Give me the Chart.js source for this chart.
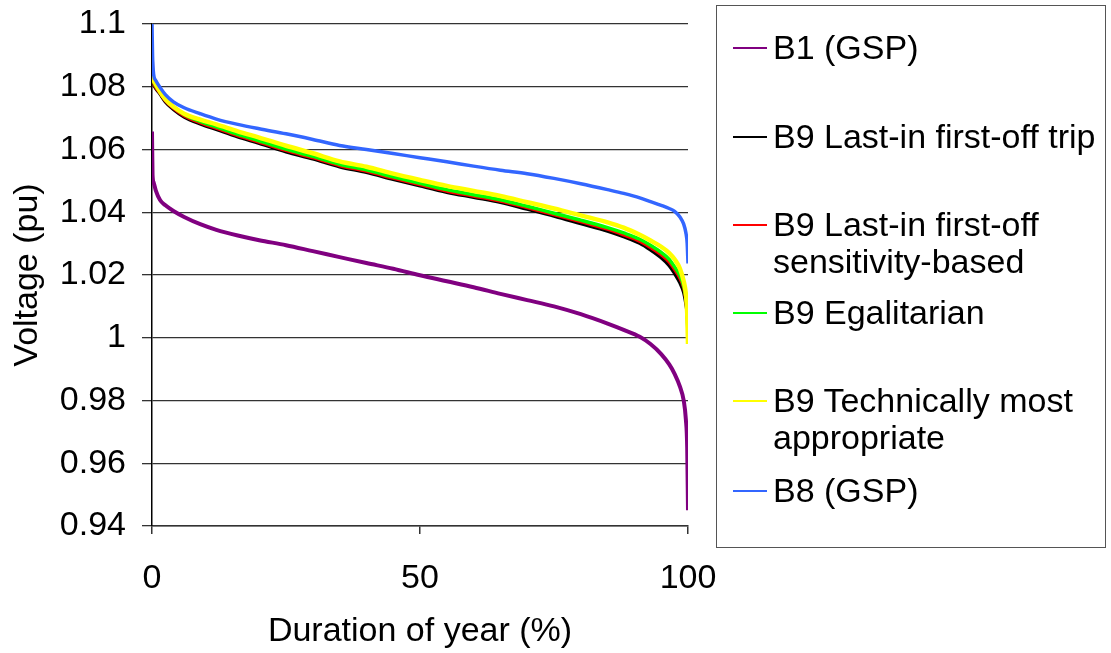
<!DOCTYPE html>
<html>
<head>
<meta charset="utf-8">
<script src="https://cdn.jsdelivr.net/npm/chart.js@4.4.1/dist/chart.umd.min.js"></script>
<style>
    html, body { margin: 0; padding: 0; background: #fff; }
    #wrap { position: relative; width: 1111px; height: 653px; font-family: "Liberation Sans", Arial, sans-serif; }
    #legendBox {
        position: absolute; left: 716px; top: 5px; width: 390px; height: 543px;
        border: 1.5px solid #555; box-sizing: border-box;
    }
    .item { position: absolute; left: 56px; font-size: 34px; line-height: 37px; color: #000; white-space: nowrap; }
    .swatch { position: absolute; left: -40px; top: 17.5px; width: 34px; height: 2px; }
</style>
</head>
<body>
<div id="wrap">
    <canvas id="voltageChart" width="1111" height="653"></canvas>
    <div id="legendBox"></div>
</div>
<script>
// duration of year (%), shared x positions for all curves
const durationPct = [0, 0.1, 0.3, 0.7, 1.5, 2.5, 4, 6, 9, 12, 16, 20, 25, 30, 35, 40, 45, 50,
    55, 60, 65, 70, 75, 80, 85, 88, 91, 93, 95, 96.5, 97.5, 98.5, 99.2, 99.6, 99.85, 100];

const b1Gsp = [1.0657, 1.052, 1.0495, 1.047, 1.0439, 1.0422, 1.0404, 1.0385, 1.0362, 1.0344, 1.0326, 1.0311,
    1.0295, 1.0276, 1.0257, 1.0238, 1.022, 1.0199, 1.018, 1.0161, 1.014, 1.012, 1.01, 1.0075, 1.0045,
    1.0025, 1.0003, 0.998, 0.9948, 0.9915, 0.9885, 0.9844, 0.98, 0.974, 0.965, 0.945];

const b9LifoTrip = [1.085, 1.083, 1.081, 1.0795, 1.0777, 1.0752, 1.0728, 1.0704, 1.0682, 1.0664, 1.064, 1.062,
    1.0593, 1.057, 1.0545, 1.0527, 1.0505, 1.0484, 1.0464, 1.0448, 1.0432, 1.041, 1.0388, 1.0364, 1.034,
    1.0322, 1.0301, 1.028, 1.0255, 1.023, 1.0205, 1.0175, 1.0145, 1.011, 1.008, 1.005];

const b9LifoSens = [1.092, 1.085, 1.0815, 1.0799, 1.0781, 1.0756, 1.0732, 1.0708, 1.0686, 1.0668, 1.0644, 1.0624,
    1.0597, 1.0574, 1.0549, 1.0531, 1.0509, 1.0488, 1.0468, 1.0452, 1.0436, 1.0415, 1.0393, 1.037, 1.0346,
    1.0328, 1.0308, 1.0288, 1.0265, 1.0242, 1.0218, 1.019, 1.016, 1.0125, 1.008, 1.002];

const b9Egalitarian = [1.086, 1.0835, 1.0818, 1.0803, 1.0785, 1.076, 1.0736, 1.0712, 1.069, 1.0672, 1.0648, 1.0628,
    1.0601, 1.0578, 1.0553, 1.0535, 1.0513, 1.0492, 1.0472, 1.0456, 1.044, 1.0419, 1.0397, 1.0375, 1.0351,
    1.0334, 1.0314, 1.0295, 1.0272, 1.025, 1.0226, 1.0198, 1.0165, 1.013, 1.0085, 1.0];

const b9TechMost = [1.0855, 1.0838, 1.0822, 1.0808, 1.0784, 1.076, 1.0736, 1.0714, 1.0695, 1.068, 1.0658, 1.0638,
    1.0612, 1.0588, 1.0562, 1.0545, 1.0523, 1.0503, 1.0484, 1.0468, 1.0452, 1.0432, 1.0412, 1.039, 1.0368,
    1.0351, 1.0328, 1.031, 1.029, 1.027, 1.025, 1.022, 1.018, 1.014, 1.008, 0.998];

const b8Gsp = [1.1, 1.09, 1.084, 1.082, 1.0798, 1.0775, 1.0752, 1.0733, 1.0714, 1.0697, 1.068, 1.0666,
    1.065, 1.0632, 1.0613, 1.06, 1.0587, 1.0574, 1.0561, 1.0547, 1.0534, 1.0523, 1.0508, 1.0491, 1.0472,
    1.046, 1.0446, 1.0434, 1.0422, 1.0412, 1.0403, 1.0385, 1.0362, 1.0335, 1.03, 1.0237];

const seriesLabels = [
    ['B1 (GSP)'],
    ['B9 Last-in first-off trip'],
    ['B9 Last-in first-off', 'sensitivity-based'],
    ['B9 Egalitarian'],
    ['B9 Technically most', 'appropriate'],
    ['B8 (GSP)'],
];
const seriesValues = [b1Gsp, b9LifoTrip, b9LifoSens, b9Egalitarian, b9TechMost, b8Gsp];
const seriesColors = ['#800080', '#000000', '#ff0000', '#00ff00', '#ffff00', '#3366ff'];
const seriesWidths = [4, 3.5, 3.5, 3.5, 4.5, 3.5];

const yTicks = { min: 0.94, max: 1.1, step: 0.02 };
const xTicks = { min: 0, max: 100, step: 50 };

// legend row tops inside the box (px)
const legendTops = [23, 112, 200, 288, 376, 466];

const fontFamily = '"Liberation Sans", Arial, sans-serif';

const datasets = seriesValues.map((vals, i) => ({
    label: seriesLabels[i].join(' '),
    data: vals.map((v, j) => ({ x: durationPct[j], y: v })),
    borderColor: seriesColors[i],
    backgroundColor: seriesColors[i],
    borderWidth: seriesWidths[i],
    pointRadius: 0,
    cubicInterpolationMode: 'monotone',
    fill: false,
    order: seriesValues.length - i,
}));

new Chart(document.getElementById('voltageChart'), {
    type: 'line',
    data: { datasets },
    options: {
        responsive: false,
        animation: false,
        layout: { padding: { left: 0, top: 24, right: 423, bottom: 0 } },
        plugins: { legend: { display: false }, tooltip: { enabled: false } },
        scales: {
            x: {
                type: 'linear',
                min: xTicks.min,
                max: xTicks.max,
                afterFit: (scale) => {
                    scale.height = 127;
                    scale.paddingLeft = 0;
                    scale.paddingRight = 0;
                },
                border: { display: true, color: '#333', width: 1.5 },
                grid: { drawOnChartArea: false, drawTicks: true, tickLength: 8, color: '#333', lineWidth: 1.5 },
                ticks: {
                    stepSize: xTicks.step,
                    color: '#000',
                    padding: 24,
                    maxRotation: 0,
                    font: { family: fontFamily, size: 34 },
                },
                title: {
                    display: true,
                    text: 'Duration of year (%)',
                    color: '#000',
                    padding: { top: 0, bottom: 1 },
                    font: { family: fontFamily, size: 34 },
                },
            },
            y: {
                min: yTicks.min,
                max: yTicks.max,
                afterFit: (scale) => {
                    scale.width = 152;
                    scale.paddingTop = 0;
                    scale.paddingBottom = 0;
                },
                border: { display: true, color: '#000', width: 1.5 },
                grid: { color: '#333', lineWidth: 1.3, tickLength: 10 },
                ticks: {
                    stepSize: yTicks.step,
                    color: '#000',
                    padding: 16,
                    font: { family: fontFamily, size: 34 },
                    callback: (value) => String(Number(value.toFixed(2))),
                },
                title: {
                    display: true,
                    text: 'Voltage (pu)',
                    color: '#000',
                    padding: { top: 7, bottom: 0 },
                    font: { family: fontFamily, size: 34 },
                },
            },
        },
    },
});

// legend built from the same series arrays
const legendBox = document.getElementById('legendBox');
seriesLabels.forEach((lines, i) => {
    const item = document.createElement('div');
    item.className = 'item';
    item.style.top = legendTops[i] + 'px';
    item.innerHTML = lines.join('<br>');
    const sw = document.createElement('span');
    sw.className = 'swatch';
    sw.style.background = seriesColors[i];
    item.appendChild(sw);
    legendBox.appendChild(item);
});
</script>
</body>
</html>
